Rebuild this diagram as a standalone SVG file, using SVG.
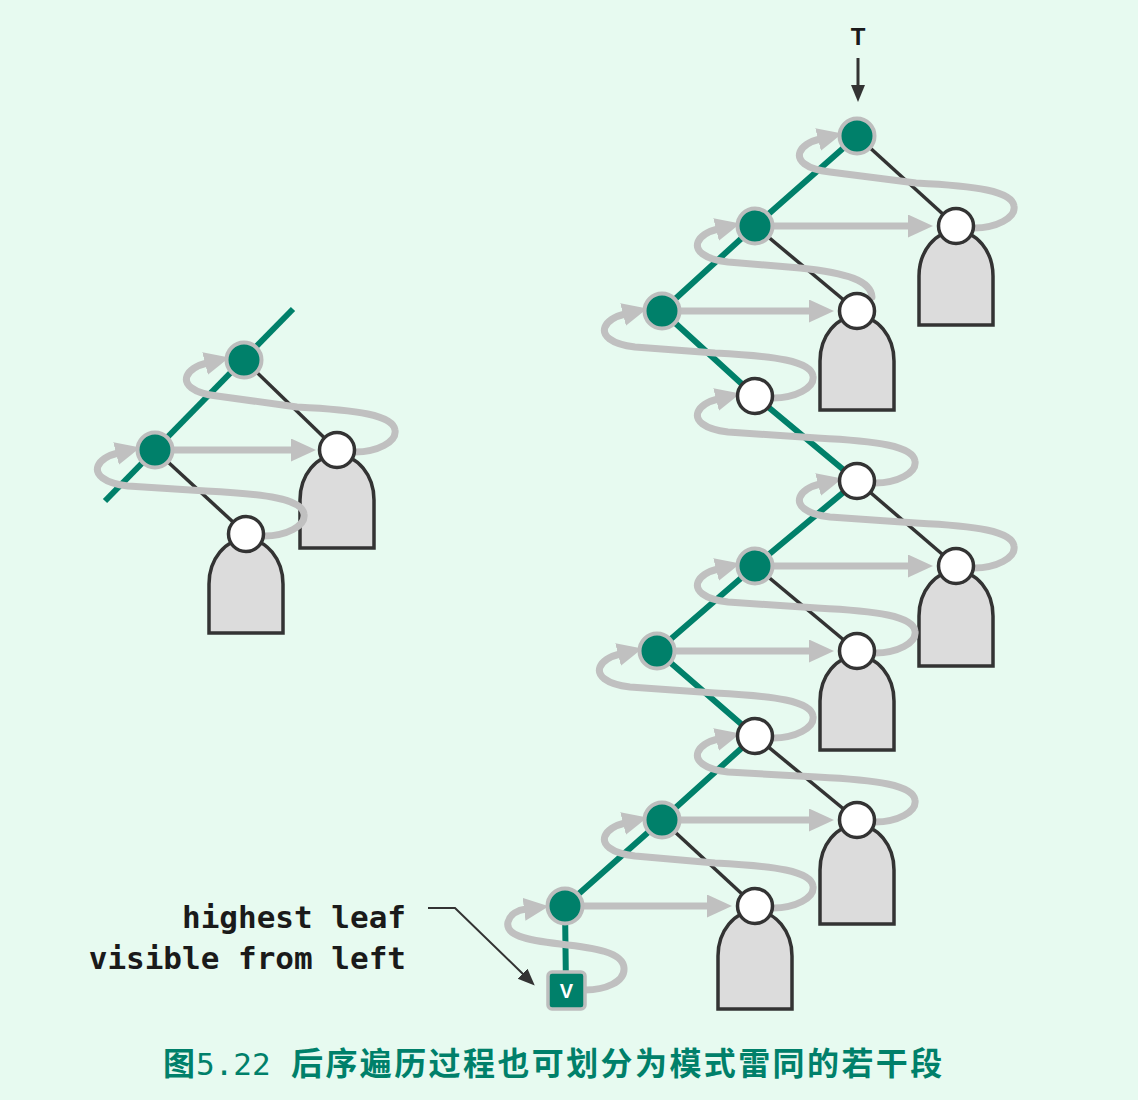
<svg xmlns="http://www.w3.org/2000/svg" width="1138" height="1100" viewBox="0 0 1138 1100">
<defs>
<style>
.teal{fill:none;stroke:#00806a;stroke-width:6;stroke-linejoin:round}
.edge{fill:none;stroke:#333;stroke-width:3.5}
.loop{fill:none;stroke:#c0c0c0;stroke-width:7;stroke-linecap:round;stroke-linejoin:round}
.hor{fill:none;stroke:#c0c0c0;stroke-width:7}
.sub{fill:#dcdcdc;stroke:#333;stroke-width:3.5}
.gn{fill:#00806a;stroke:#bdbdbd;stroke-width:4}
.wn{fill:#fff;stroke:#333;stroke-width:3.5}
.lbl{font-family:"DejaVu Sans Mono","Liberation Mono",monospace;font-size:31px;font-weight:bold;fill:#1a1a1a}
</style>
<marker id="ga" markerUnits="userSpaceOnUse" markerWidth="30" markerHeight="26" refX="2" refY="11.5" orient="auto"><path d="M0,0 L25,11.5 L0,23 Z" fill="#c0c0c0"/></marker>
<marker id="da" markerUnits="userSpaceOnUse" markerWidth="20" markerHeight="16" refX="2" refY="7" orient="auto"><path d="M0,0 L17,7 L0,14 Z" fill="#333"/></marker>
</defs>
<rect width="1138" height="1100" fill="#e7faf0"/>

<g id="subtrees">
<path class="sub" d="M300,548 V500 A37,45 0 0 1 374,500 V548 Z"/>
<path class="sub" d="M209,633 V584 A37,45 0 0 1 283,584 V633 Z"/>
<path class="sub" d="M919,325 V276 A37,45 0 0 1 993,276 V325 Z"/>
<path class="sub" d="M820,410 V361 A37,45 0 0 1 894,361 V410 Z"/>
<path class="sub" d="M919,666 V616 A37,45 0 0 1 993,616 V666 Z"/>
<path class="sub" d="M820,750 V701 A37,45 0 0 1 894,701 V750 Z"/>
<path class="sub" d="M820,924 V870 A37,45 0 0 1 894,870 V924 Z"/>
<path class="sub" d="M718,1009 V956 A37,45 0 0 1 792,956 V1009 Z"/>
</g>

<g id="connectors">
<line class="teal" x1="105" y1="501" x2="293" y2="309"/>
<polyline class="teal" points="857,136 755,226 662,311 755,396 857,481 755,566 657,651 755,736 662,820 565,906 566,990"/>
<line class="edge" x1="244" y1="360" x2="337" y2="450"/>
<line class="edge" x1="155" y1="450" x2="246" y2="534"/>
<line class="edge" x1="857" y1="136" x2="956" y2="226"/>
<line class="edge" x1="755" y1="226" x2="857" y2="311"/>
<line class="edge" x1="857" y1="481" x2="956" y2="566"/>
<line class="edge" x1="755" y1="566" x2="857" y2="651"/>
<line class="edge" x1="755" y1="736" x2="857" y2="820"/>
<line class="edge" x1="662" y1="820" x2="755" y2="906"/>

<line class="hor" marker-end="url(#ga)" x1="174" y1="450" x2="293" y2="450"/>
<line class="hor" marker-end="url(#ga)" x1="774" y1="226" x2="910" y2="226"/>
<line class="hor" marker-end="url(#ga)" x1="681" y1="311" x2="811" y2="311"/>
<line class="hor" marker-end="url(#ga)" x1="774" y1="566" x2="910" y2="566"/>
<line class="hor" marker-end="url(#ga)" x1="676" y1="651" x2="811" y2="651"/>
<line class="hor" marker-end="url(#ga)" x1="681" y1="820" x2="811" y2="820"/>
<line class="hor" marker-end="url(#ga)" x1="584" y1="906" x2="709" y2="906"/>

<path class="loop" marker-end="url(#ga)" d="M355,452 C377,452 397,442 395,430 C393,415 357,410 297,407 L217,396 C192,393 184,384 187,376 C190,369 199,365 207,363"/>
<path class="loop" marker-end="url(#ga)" d="M264,536 C286,536 306,526 304,514 C302,499 266,494 206,491 L128,486 C103,483 95,474 98,466 C101,459 110,455 118,453"/>
<path class="loop" marker-end="url(#ga)" d="M974,228 C996,228 1016,218 1014,206 C1012,191 976,186 916,183 L830,172 C805,169 797,160 800,152 C803,145 812,141 820,139"/>
<path class="loop" marker-end="url(#ga)" d="M872,297 C871,281 848,273 800,268 L728,262 C703,259 695,250 698,242 C701,235 710,231 718,229"/>
<path class="loop" marker-end="url(#ga)" d="M773,398 C795,398 815,388 813,376 C811,361 775,356 715,353 L635,347 C610,344 602,335 605,327 C608,320 617,316 625,314"/>
<path class="loop" marker-end="url(#ga)" d="M875,483 C897,483 917,473 915,461 C913,446 877,441 817,438 L728,432 C703,429 695,420 698,412 C701,405 710,401 718,399"/>
<path class="loop" marker-end="url(#ga)" d="M974,568 C996,568 1016,558 1014,546 C1012,531 976,526 916,523 L830,517 C805,514 797,505 800,497 C803,490 812,486 820,484"/>
<path class="loop" marker-end="url(#ga)" d="M875,653 C897,653 917,643 915,631 C913,616 877,611 817,608 L728,602 C703,599 695,590 698,582 C701,575 710,571 718,569"/>
<path class="loop" marker-end="url(#ga)" d="M773,738 C795,738 815,728 813,716 C811,701 775,696 715,693 L630,687 C605,684 597,675 600,667 C603,660 612,656 620,654"/>
<path class="loop" marker-end="url(#ga)" d="M875,822 C897,822 917,812 915,800 C913,785 877,780 817,777 L728,772 C703,769 695,760 698,752 C701,745 710,741 718,739"/>
<path class="loop" marker-end="url(#ga)" d="M773,908 C795,908 815,898 813,886 C811,871 775,866 715,863 L635,856 C610,853 602,844 605,836 C608,829 617,825 625,823"/>
<path class="loop" marker-end="url(#ga)" d="M585,990 C605,990 625,982 624,968 C623,952 595,948 560,944 C525,940 505,935 508,922 C510,914 518,910 526,909"/>

<polyline fill="none" stroke="#333" stroke-width="2" marker-end="url(#da)" points="428,908 455,908 524,975"/>
<line stroke="#333" stroke-width="3" marker-end="url(#da)" x1="858" y1="58" x2="858" y2="87"/>
</g>

<g id="left-tree">
<g id="l1"><circle class="gn" cx="244" cy="360" r="17.5"/></g>
<g id="l2"><circle class="gn" cx="155" cy="450" r="17.5"/></g>
<g id="l3"><circle class="wn" cx="337" cy="450" r="17.5"/></g>
<g id="l4"><circle class="wn" cx="246" cy="534" r="17.5"/></g>
</g>

<g id="right-tree">
<g id="nA"><circle class="gn" cx="857" cy="136" r="17.5"/></g>
<g id="nB"><circle class="gn" cx="755" cy="226" r="17.5"/></g>
<g id="nC"><circle class="wn" cx="956" cy="226" r="17.5"/></g>
<g id="nD"><circle class="gn" cx="662" cy="311" r="17.5"/></g>
<g id="nE"><circle class="wn" cx="857" cy="311" r="17.5"/></g>
<g id="nF"><circle class="wn" cx="755" cy="396" r="17.5"/></g>
<g id="nG"><circle class="wn" cx="857" cy="481" r="17.5"/></g>
<g id="nH"><circle class="gn" cx="755" cy="566" r="17.5"/></g>
<g id="nI"><circle class="wn" cx="956" cy="566" r="17.5"/></g>
<g id="nJ"><circle class="wn" cx="857" cy="651" r="17.5"/></g>
<g id="nK"><circle class="gn" cx="657" cy="651" r="17.5"/></g>
<g id="nL"><circle class="wn" cx="755" cy="736" r="17.5"/></g>
<g id="nM"><circle class="wn" cx="857" cy="820" r="17.5"/></g>
<g id="nN"><circle class="gn" cx="662" cy="820" r="17.5"/></g>
<g id="nO"><circle class="wn" cx="755" cy="906" r="17.5"/></g>
<g id="nP"><circle class="gn" cx="565" cy="906" r="17.5"/></g>
<g id="nV"><rect x="548" y="972" width="37" height="37" rx="4" fill="#00806a" stroke="#bdbdbd" stroke-width="3.5"/>
<text x="566.5" y="998" text-anchor="middle" font-family="'Liberation Sans',Arial,sans-serif" font-weight="bold" font-size="20" fill="#fff">V</text></g>
</g>

<g id="labels">
<text x="858" y="45" text-anchor="middle" font-family="'Liberation Sans',Arial,sans-serif" font-weight="bold" font-size="24" fill="#1a1a1a">T</text>
<text class="lbl" x="406" y="928" text-anchor="end">highest leaf</text>
<text class="lbl" x="406" y="969" text-anchor="end">visible from left</text>
<text y="1075" font-family="'Noto Sans CJK SC',sans-serif" font-weight="bold" font-size="32" fill="#00806a"><tspan x="163">图</tspan><tspan x="196" font-family="'DejaVu Sans Mono','Liberation Mono',monospace" font-weight="normal" font-size="31">5.22</tspan><tspan x="291" letter-spacing="2.4">后序遍历过程也可划分为模式雷同的若干段</tspan></text>
</g>
</svg>
